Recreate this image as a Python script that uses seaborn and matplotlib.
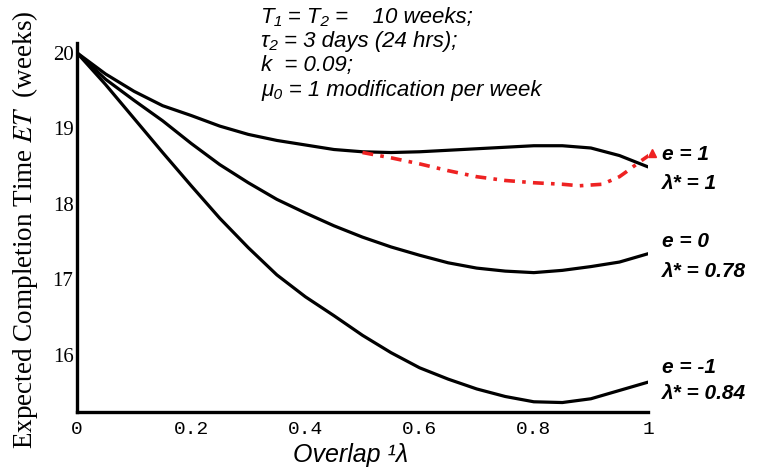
import numpy as np
import pandas as pd
import matplotlib
matplotlib.use("Agg")
import matplotlib.pyplot as plt
import seaborn as sns

# overlap lambda grid
overlap = [0.0, 0.05, 0.1, 0.15, 0.2, 0.25, 0.3, 0.35, 0.4, 0.45, 0.5,
           0.55, 0.6, 0.65, 0.7, 0.75, 0.8, 0.85, 0.9, 0.95, 1.0]

et_e1 = [20.0, 19.72, 19.49, 19.30, 19.17, 19.03, 18.92, 18.84, 18.78, 18.72, 18.69,
         18.68, 18.69, 18.71, 18.73, 18.75, 18.77, 18.77, 18.74, 18.64, 18.49]
et_e0 = [20.0, 19.65, 19.37, 19.10, 18.80, 18.52, 18.28, 18.06, 17.88, 17.71, 17.56,
         17.43, 17.32, 17.22, 17.15, 17.11, 17.09, 17.12, 17.17, 17.23, 17.34]
et_em1 = [20.0, 19.58, 19.13, 18.68, 18.24, 17.81, 17.42, 17.06, 16.77, 16.52, 16.26,
          16.03, 15.83, 15.68, 15.55, 15.45, 15.38, 15.37, 15.42, 15.53, 15.64]

# red dash-dot curve
red_x = [0.5, 0.55, 0.6, 0.65, 0.7, 0.75, 0.8, 0.85, 0.88, 0.92, 0.95, 0.963, 0.986, 1.007]
red_y = [18.68, 18.61, 18.53, 18.44, 18.36, 18.31, 18.28, 18.26, 18.24, 18.26, 18.36, 18.43, 18.56, 18.67]

labels = [("e = 1", "λ* = 1"), ("e = 0", "λ* = 0.78"), ("e = -1", "λ* = 0.84")]
label_y = [(18.66, 18.27), (17.50, 17.11), (15.83, 15.49)]

sns.set_style("white")
plt.rcParams['mathtext.fontset'] = 'stix'
plt.rcParams['text.color'] = 'black'

fig = plt.figure(figsize=(7.61, 4.68), dpi=100)
ax = fig.add_axes([0.1012, 0.1197, 0.7503, 0.7884])

for ys in [et_e1, et_e0, et_em1]:
    sns.lineplot(x=overlap, y=ys, ax=ax, color="black", linewidth=2.3, sort=False)

sns.lineplot(x=red_x, y=red_y, ax=ax, color="#ee2222", linewidth=2.6, sort=False,
             linestyle=(0, (3, 2, 1, 2)))
ax.plot(red_x[-1:], red_y[-1:], marker="^", color="#ee2222", markersize=6, clip_on=False)

ax.set_xlim(0, 1)
ax.set_ylim(15.245, 20.13)
ax.set_xticks([0, 0.2, 0.4, 0.6, 0.8, 1])
ax.set_xticklabels(["0", "0.2", "0.4", "0.6", "0.8", "1"], family="Liberation Mono",
                   fontsize=14, color="black")
ax.set_yticks([16, 17, 18, 19, 20])
ax.set_yticklabels(["16", "17", "18", "19", "20"], family="Liberation Serif",
                   fontsize=15, color="black")
ax.tick_params(axis="both", direction="inout", length=9, width=2, color="black", pad=2)
ax.tick_params(axis="y", pad=-2)

for side in ["top", "right"]:
    ax.spines[side].set_visible(False)
for side in ["left", "bottom"]:
    ax.spines[side].set_linewidth(2.4)
    ax.spines[side].set_color("black")

for (l1, l2), (y1, y2) in zip(labels, label_y):
    ax.text(1.025, y1, l1, fontsize=15, style="italic", weight="bold",
            family="Liberation Sans", va="center", ha="left", clip_on=False)
    ax.text(1.025, y2, l2, fontsize=15, style="italic", weight="bold",
            family="Liberation Sans", va="center", ha="left", clip_on=False)

params = ("T₁ = T₂ =    10 weeks;\n"
          "τ₂ = 3 days (24 hrs);\n"
          "k  = 0.09;\n"
          "μ₀ = 1 modification per week")
fig.text(0.343, 0.985, params, fontsize=16, style="italic",
         family=["Liberation Sans", "DejaVu Sans"],
         va="top", ha="left", linespacing=1.2)

fig.text(0.033, 0.51, "Expected Completion Time $ET$  (weeks)", rotation=90,
         family="Liberation Serif", fontsize=19.5, va="center", ha="center")
fig.text(0.461, 0.027, "Overlap ¹λ", fontsize=18, style="italic",
         family="Liberation Sans", ha="center", va="center")

fig.savefig("out.png", dpi=100)
